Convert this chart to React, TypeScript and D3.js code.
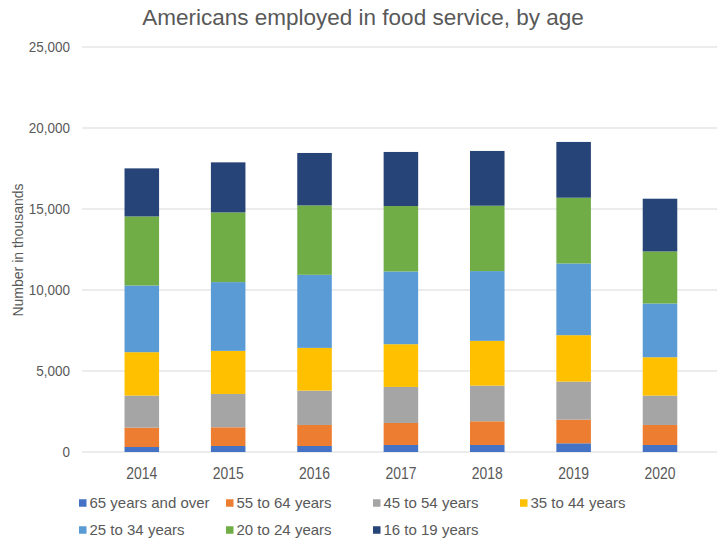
import React from "react";
import * as d3 from "d3";

const years = ["2014", "2015", "2016", "2017", "2018", "2019", "2020"];
const seriesNames = [
  "65 years and over",
  "55 to 64 years",
  "45 to 54 years",
  "35 to 44 years",
  "25 to 34 years",
  "20 to 24 years",
  "16 to 19 years",
];
const colors = ["#4472C4", "#ED7D31", "#A5A5A5", "#FFC000", "#5B9BD5", "#70AD47", "#264478"];

const age65plus = [309, 371, 371, 433, 433, 536, 433];
const age55to64 = [1195, 1154, 1298, 1359, 1464, 1460, 1236];
const age45to54 = [1977, 2059, 2121, 2225, 2200, 2349, 1812];
const age35to44 = [2680, 2658, 2637, 2637, 2763, 2867, 2369];
const age25to34 = [4116, 4245, 4512, 4489, 4307, 4425, 3315];
const age20to24 = [4264, 4302, 4282, 4041, 4036, 4060, 3215];
const age16to19 = [2967, 3090, 3238, 3337, 3380, 3442, 3255];
const yTicks = [0, 5000, 10000, 15000, 20000, 25000];

const seriesValues = [age65plus, age55to64, age45to54, age35to44, age25to34, age20to24, age16to19];

const W = 722;
const H = 542;
const gridLeft = 82;
const gridRight = 717;
const top = 47;
const bottom = 452;

export default function App() {
  const x = d3.scaleBand<string>().domain(years).range([81.35, 720.45]).paddingInner(0.6).paddingOuter(0.5);
  const y = d3.scaleLinear().domain([0, 25000]).range([bottom, top]);

  const rows = years.map((yr, i) => {
    const r: Record<string, number | string> = { year: yr };
    seriesNames.forEach((s, k) => (r[s] = seriesValues[k][i]));
    return r;
  });
  const stacked = d3.stack<Record<string, number | string>>().keys(seriesNames)(rows as any);
  const fmt = d3.format(",");
  const font = "'Liberation Sans', Arial, sans-serif";
  const textColor = "#595959";

  return (
    <svg width={W} height={H} style={{ position: "absolute", left: 0, top: 0, background: "#fff" }} fontFamily={font}>
      <rect width={W} height={H} fill="#fff" />
      <text x={363} y={25} textAnchor="middle" fontSize={22.5} fill={textColor}>
        Americans employed in food service, by age
      </text>
      {yTicks.map((t) => (
        <g key={t}>
          <line x1={gridLeft} x2={gridRight} y1={y(t)} y2={y(t)} stroke="#D9D9D9" strokeWidth={1} />
          <text
            transform={`translate(70,${y(t)}) scale(0.9,1)`}
            dy="0.35em"
            textAnchor="end"
            fontSize={15}
            fill={textColor}
          >
            {fmt(t)}
          </text>
        </g>
      ))}
      <text
        transform={`translate(18,250) rotate(-90)`}
        textAnchor="middle"
        dy="0.35em"
        fontSize={14}
        fill={textColor}
      >
        Number in thousands
      </text>
      {stacked.map((layer, k) => (
        <g key={seriesNames[k]} fill={colors[k]}>
          {layer.map((d, i) => (
            <rect
              key={i}
              x={x(years[i])}
              width={x.bandwidth()}
              y={y(d[1])}
              height={y(d[0]) - y(d[1])}
            />
          ))}
        </g>
      ))}
      {years.map((yr) => (
        <text
          key={yr}
          transform={`translate(${(x(yr) as number) + x.bandwidth() / 2},473) scale(0.87,1)`}
          dy="0.35em"
          textAnchor="middle"
          fontSize={16}
          fill={textColor}
        >
          {yr}
        </text>
      ))}
      {seriesNames.map((s, k) => {
        const col = k % 4;
        const row = Math.floor(k / 4);
        const lx = 79 + col * 147;
        const ly = 503 + row * 27;
        return (
          <g key={s}>
            <rect x={lx} y={ly - 3.75} width={7.5} height={7.5} fill={colors[k]} />
            <text x={lx + 10.5} y={ly} dy="0.35em" fontSize={15} fill={textColor}>
              {s}
            </text>
          </g>
        );
      })}
    </svg>
  );
}
